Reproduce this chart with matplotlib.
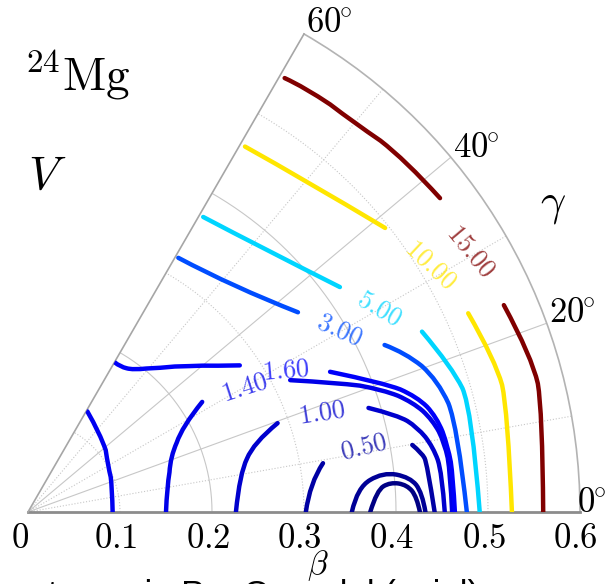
import numpy as np
import matplotlib
matplotlib.use("Agg")
import matplotlib.pyplot as plt
from matplotlib.colors import Normalize
from matplotlib.path import Path
from matplotlib.patches import PathPatch

plt.rcParams["mathtext.fontset"] = "cm"

# contour traces as (gamma in degrees, beta); a level is split where its label sits
v01 = [(0.0, .372), (3.6, .380), (4.7, .395), (4.1, .413), (2.2, .423), (0.0, .426)]
v03 = [(0.0, .352), (4.3, .359), (6.4, .388), (5.2, .417), (2.8, .429), (0.0, .432)]
v05_a = [(0.0, .302), (5.9, .308), (9.4, .325)]
v05_b = [(9.9, .424), (8.5, .433), (7.0, .437), (0.0, .442)]
v10_a = [(0.0, .226), (10.4, .234), (17.0, .256), (19.6, .288)]
v10_b = [(17.0, .387), (14.7, .415), (12.3, .433), (9.1, .446), (5.4, .452), (0.0, .453)]
v14_a = [(0.0, .150), (10.2, .1535), (21.2, .166), (28.9, .191), (32.3, .224)]
v14_b = [(26.7, .319), (22.7, .364), (19.0, .408), (15.9, .435), (12.8, .451),
         (9.4, .459), (5.3, .461), (0.0, .461)]
v15 = [(0.0, .092), (16.6, .0953), (29.4, .100), (47.7, .116), (59.5, .127)]
v16_a = [(59.9, .188), (57.6, .187), (53.5, .192), (47.5, .2123), (42.0, .237),
         (38.0, .258), (34.7, .280)]
v16_b = [(24.9, .362), (19.97, .411), (16.5, .441), (13.1, .456), (8.8, .462),
         (4.7, .4635), (0.0, .464)]
v30_a = [(59.4, .321), (47.7, .331), (36.5, .365)]
v30_b = [(25.1, .428), (22.9, .445), (17.8, .468), (11.2, .476), (0.0, .477)]
v50_a = [(59.3, .373), (48.8, .383), (35.8, .418)]
v50_b = [(24.6, .471), (18.9, .487), (12.9, .495), (0.0, .491)]
v100_a = [(59.3, .462), (50.2, .470), (38.5, .496)]
v100_b = [(24.3, .525), (18.0, .534), (12.0, .533), (0.0, .526)]
v150_a = [(59.4, .548), (56.9, .551), (50.0, .552), (43.0, .561), (37.3, .563)]
v150_b = [(23.5, .564), (17.1, .573), (11.2, .570), (0.0, .560)]

contours = [
    (0.1, [v01]), (0.3, [v03]), (0.5, [v05_a, v05_b]), (1.0, [v10_a, v10_b]),
    (1.4, [v14_a, v14_b]), (1.5, [v15]), (1.6, [v16_a, v16_b]),
    (3.0, [v30_a, v30_b]), (5.0, [v50_a, v50_b]), (10.0, [v100_a, v100_b]),
    (15.0, [v150_a, v150_b]),
]

# inline labels: level, gamma, beta, rotation
label_levels = [15.0, 10.0, 5.0, 3.0, 1.6, 1.4, 1.0, 0.5]
label_gamma = [30.5, 31.5, 30.0, 30.3, 28.8, 29.9, 18.6, 10.9]
label_beta = [.559, .514, .441, .392, .320, .272, .337, .372]
label_rot = [-50, -43, -30, -24, 5, 18, 9, 14]

beta_ticks = [0, 0.1, 0.2, 0.3, 0.4, 0.5, 0.6]
gamma_ticks = [0, 20, 40, 60]

cmap = plt.get_cmap("jet")
norm = Normalize(0, 15)


def smooth_path(seg):
    """Quadratic-spline path through a trace, in (theta, r)."""
    pts = [(np.deg2rad(g), b) for g, b in seg]
    if len(pts) < 3:
        return Path(pts)
    verts = [pts[0]]
    codes = [Path.MOVETO]
    for i in range(1, len(pts) - 2):
        mid = ((pts[i][0] + pts[i + 1][0]) / 2, (pts[i][1] + pts[i + 1][1]) / 2)
        verts += [pts[i], mid]
        codes += [Path.CURVE3, Path.CURVE3]
    verts += [pts[-2], pts[-1]]
    codes += [Path.CURVE3, Path.CURVE3]
    return Path(verts, codes)


fig = plt.figure(figsize=(6.1, 5.84), dpi=100)
ax = fig.add_axes([28 / 610, 35 / 584, 552 / 610, 552 / 584], projection="polar")
ax.set_thetamin(0)
ax.set_thetamax(60)
ax.set_rlim(0, 0.6)
ax.set_xticks([])
ax.set_yticks([])
ax.grid(False)

ax.spines["polar"].set_color("0.7")
ax.spines["polar"].set_linewidth(1.2)
ax.spines["end"].set_color("0.65")
ax.spines["end"].set_linewidth(1.2)
ax.spines["start"].set_color("0.55")
ax.spines["start"].set_linewidth(2.0)

# grid: solid every 20 deg / 0.2, dotted in between
th = np.linspace(0, np.pi / 3, 200)
for g in [10, 20, 30, 40, 50]:
    ls = "-" if g % 20 == 0 else ":"
    ax.plot([np.deg2rad(g)] * 2, [0, 0.6], color="0.78", lw=0.8, ls=ls, zorder=1)
for r in [0.1, 0.2, 0.3, 0.4, 0.5]:
    ls = "-" if round(r * 10) % 2 == 0 else ":"
    ax.plot(th, np.full_like(th, r), color="0.78", lw=0.8, ls=ls, zorder=1)

for level, segs in contours:
    for seg in segs:
        ax.add_patch(PathPatch(smooth_path(seg), fill=False, edgecolor=cmap(norm(level)),
                               lw=3.2, capstyle="round", joinstyle="round", zorder=3))

for lv, g, b, rot in zip(label_levels, label_gamma, label_beta, label_rot):
    ax.text(np.deg2rad(g), b, f"${lv:.2f}$", color=cmap(norm(lv)), alpha=0.75,
            fontsize=19, rotation=rot, ha="center", va="center",
            rotation_mode="anchor", zorder=4)

for r in beta_ticks:
    dx = -6 if r == 0 else -3
    ax.annotate(f"${r:g}$", xy=(0, r), xytext=(dx, -19), textcoords="offset points",
                ha="center", va="center", fontsize=25, annotation_clip=False)

gamma_pos = {0: (1.0, 0.612), 20: (20.2, 0.630), 40: (39.2, 0.628), 60: (58.4, 0.625)}
for g in gamma_ticks:
    a, r = gamma_pos[g]
    ax.text(np.deg2rad(a), r, f"${g}^{{\\!\\!\\circ}}$", ha="center", va="center",
            fontsize=25, clip_on=False)

fig.text(77 / 610, 1 - 75 / 584, r"$^{24}\mathrm{Mg}$", fontsize=34,
         ha="center", va="center")
fig.text(47 / 610, 1 - 176 / 584, r"$V$", fontsize=34, ha="center", va="center")
fig.text(553 / 610, 1 - 205 / 584, r"$\gamma$", fontsize=32, ha="center", va="center")
fig.text(318 / 610, 1 - 566 / 584, r"$\beta$", fontsize=24, ha="center", va="center")

fig.text(48 / 610, 1 - 579 / 584, "terms in P + Q model (axial)",
         family="Liberation Sans", fontsize=25, va="top", ha="left")

fig.savefig("out.png", dpi=100)
